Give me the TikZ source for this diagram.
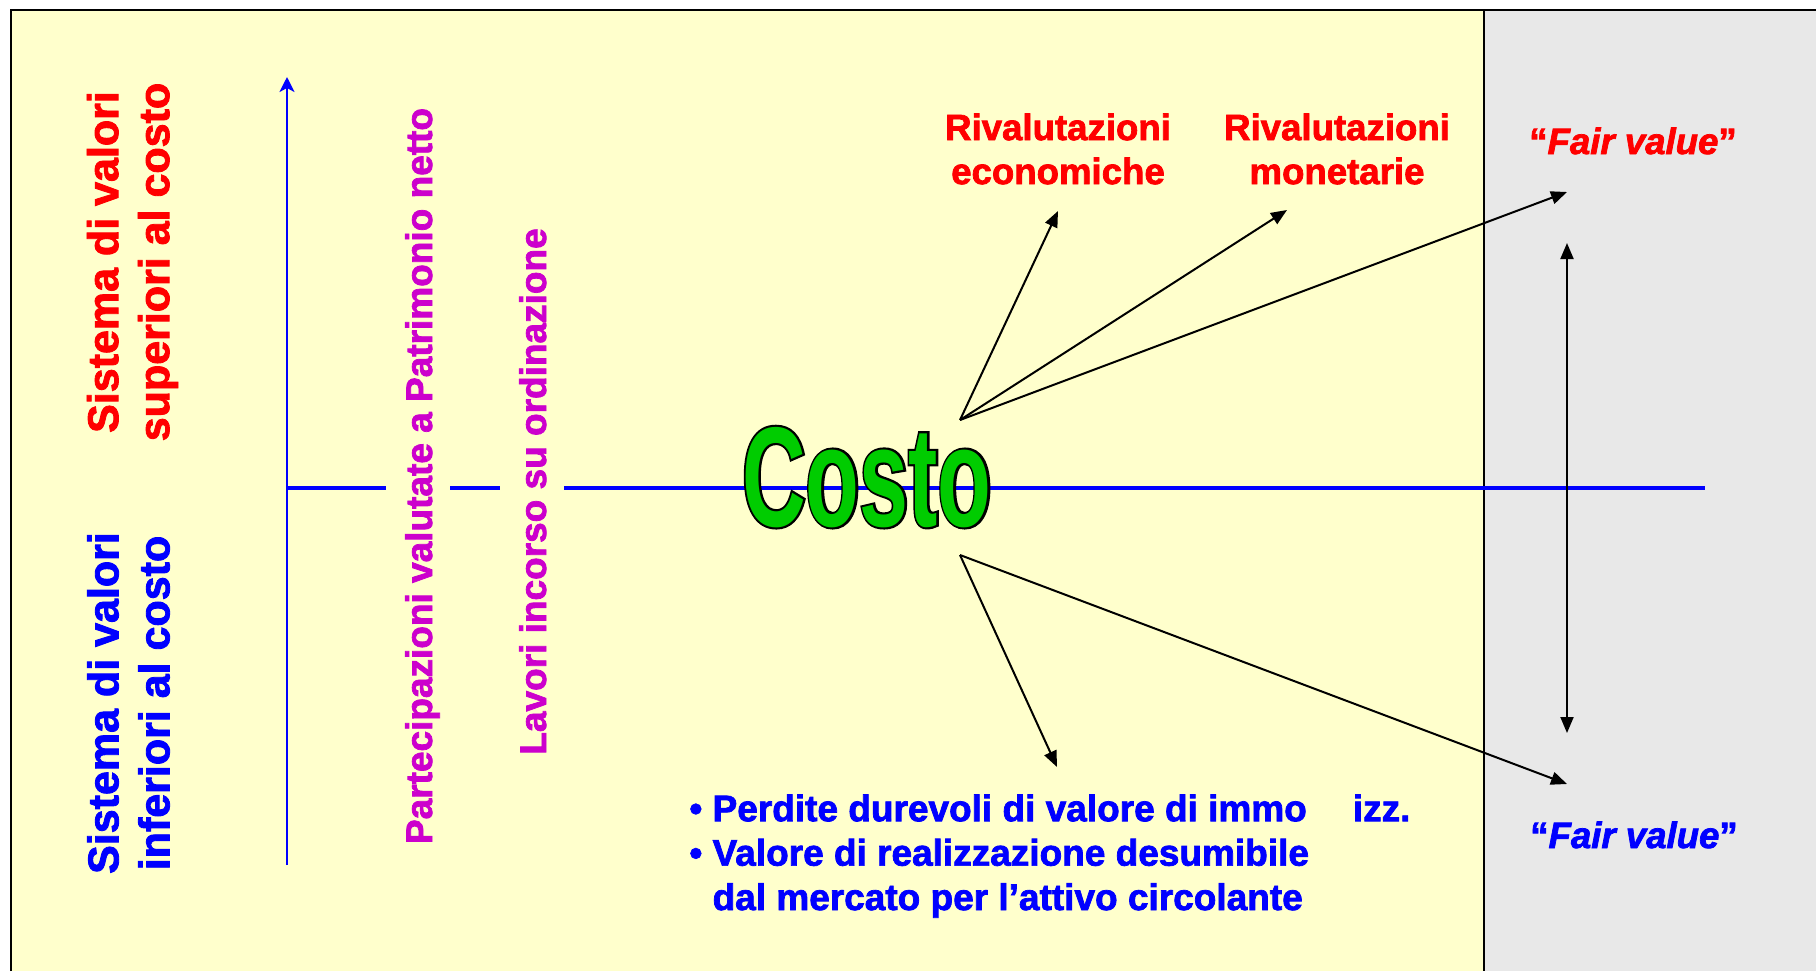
\documentclass[tikz,border=0pt]{standalone}
\usepackage{fontspec}
\setmainfont{Liberation Sans}
\newfontfamily\bsans[FakeBold=2]{Liberation Sans Bold}
\newfontfamily\bisans[FakeBold=2]{Liberation Sans Bold Italic}
\newfontfamily\costofill[FakeStretch=0.62]{Liberation Sans Bold}
\newfontfamily\costoline[FakeStretch=0.62,FakeBold=3]{Liberation Sans Bold}
\usetikzlibrary{arrows.meta}
\definecolor{bgyellow}{RGB}{255,255,204}
\definecolor{panelgray}{RGB}{232,232,232}
\definecolor{costogreen}{RGB}{0,204,0}
\definecolor{mag}{RGB}{204,0,204}
\begin{document}
\begin{tikzpicture}[x=0.5pt,y=-0.5pt,
  lbl/.style={inner sep=0pt, font=\bsans\fontsize{18.3}{22}\selectfont, align=center},
  sidelbl/.style={inner sep=0pt, font=\bsans\fontsize{21.5}{25.5}\selectfont, align=center, rotate=90},
  maglbl/.style={inner sep=0pt, font=\bsans\fontsize{18.5}{22}\selectfont, text=mag, rotate=90, anchor=base},
  conn/.style={-{Triangle[length=8pt,width=6.5pt]}, line width=1pt, black},
  dconn/.style={{Triangle[length=8pt,width=6.5pt]}-{Triangle[length=8pt,width=6.5pt]}, line width=1pt, black},
  axisline/.style={blue, line width=1pt, -{Stealth[length=7.5pt,width=7.5pt,inset=2pt]}},
  hline/.style={blue, line width=1.6pt},
  frameline/.style={black, line width=1.3pt}]
\useasboundingbox (0,0) rectangle (1816,971);
% backgrounds
\fill[white] (0,0) rectangle (1816,971);
\fill[bgyellow] (11,10) rectangle (1484,971);
\fill[panelgray] (1484,10) rectangle (1816,971);
\draw[frameline] (11,971) -- (11,10) -- (1816,10);
\draw[frameline] (1484,10) -- (1484,971);

% axes
\coordinate (axbot) at (287,865);
\coordinate (axtop) at (287,77);
\draw[axisline] (axbot) -- (axtop);
\coordinate (h0) at (287,488);
\coordinate (h1) at (386,488);
\coordinate (h2) at (450,488);
\coordinate (h3) at (500,488);
\coordinate (h4) at (564,488);
\coordinate (h5) at (1705,488);
\draw[hline] (h0) -- (h1);
\draw[hline] (h2) -- (h3);
\draw[hline] (h4) -- (h5);

% Costo
\node[inner sep=0pt, anchor=base, text=black, font=\costoline\fontsize{71}{71}\selectfont] (costoout) at (867,526) {Costo};
\node[inner sep=0pt, anchor=base, text=costogreen, font=\costofill\fontsize{71}{71}\selectfont] (costo) at (867,526) {Costo};

% side labels
\node[sidelbl, text=red] (sup) at (132.5,262) {Sistema di valori\\superiori al costo};
\node[sidelbl, text=blue] (inf) at (128.5,703) {Sistema di valori\\inferiori al costo};
\node[maglbl] (part) at (432,476) {Partecipazioni valutate a Patrimonio netto};
\node[maglbl] (lav) at (546,491.5) {Lavori incorso su ordinazione};

% top labels
\node[lbl, text=red] (rivec) at (1058,149) {Rivalutazioni\\economiche};
\node[lbl, text=red] (rivmon) at (1337,149) {Rivalutazioni\\monetarie};
\node[lbl, text=red, anchor=base] (fvup) at (1633,154) {“{\bisans Fair value}”};
\node[lbl, text=blue, anchor=base] (fvdown) at (1634,848) {“{\bisans Fair value}”};

% bottom text
\node[inner sep=0pt, anchor=north west, text=blue, align=left,
      font=\bsans\fontsize{18.5}{22.2}\selectfont] (perd) at (689,794)
  {• Perdite durevoli di valore di immo\hspace{23pt}izz.\\
   • Valore di realizzazione desumibile\\
   \hphantom{• }dal mercato per l’attivo circolante};

% arrows
\coordinate (oup) at (960,420);
\coordinate (odn) at (960,555);
\coordinate (tec) at (1058,211);
\coordinate (tmon) at (1287,210);
\coordinate (tfvu) at (1567,192);
\coordinate (tpd) at (1057,767);
\coordinate (tfvd) at (1567,784);
\coordinate (dvt) at (1567,243);
\coordinate (dvb) at (1567,733);
\draw[conn] (oup) -- (tec);
\draw[conn] (oup) -- (tmon);
\draw[conn] (oup) -- (tfvu);
\draw[conn] (odn) -- (tpd);
\draw[conn] (odn) -- (tfvd);
\draw[dconn] (dvt) -- (dvb);
\end{tikzpicture}
\end{document}
